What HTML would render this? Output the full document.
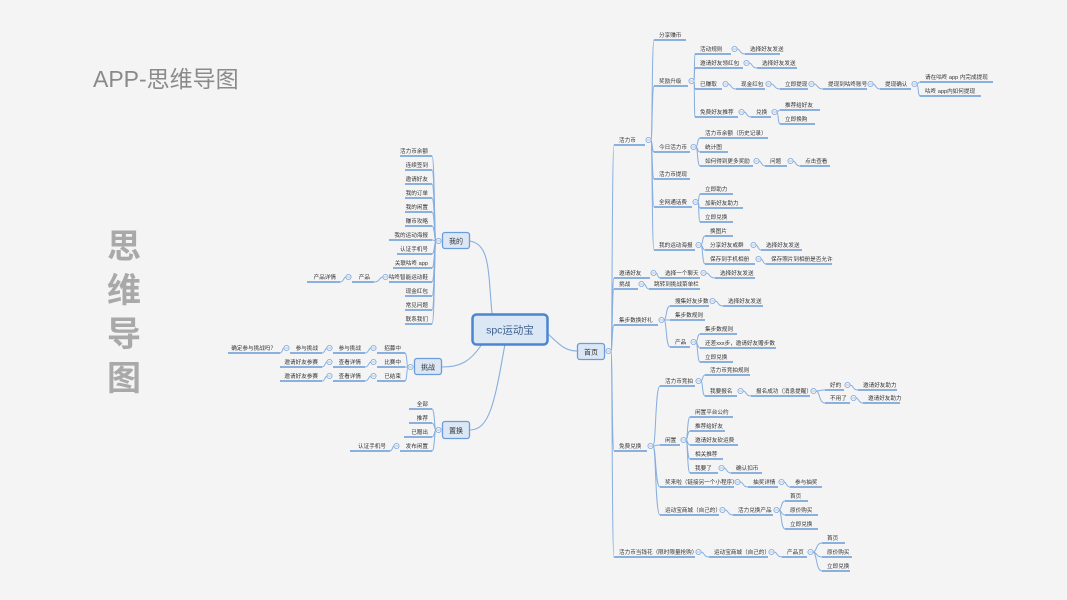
<!DOCTYPE html>
<html><head><meta charset="utf-8">
<style>
html,body{margin:0;padding:0;background:#f4f4f4;}
svg{display:block;}
text{font-family:"Liberation Sans","Noto Sans CJK SC",sans-serif;}
.l{font-size:5.6px;fill:#333;}
</style></head>
<body>
<svg id="s" width="1067" height="600" viewBox="0 0 1067 600" xmlns="http://www.w3.org/2000/svg">
<rect width="1067" height="600" fill="#f4f4f4"/>
<text x="93" y="87" font-size="23" fill="#8a8a8a">APP-思维导图</text>
<g font-size="34" fill="#a9a9a9" font-weight="bold">
<text x="107" y="258">思</text>
<text x="107" y="302">维</text>
<text x="107" y="346">导</text>
<text x="107" y="390">图</text>
</g>
<g id="conn" fill="none" stroke="#86aee0" stroke-width="1"></g>
<g fill="none" stroke="#86aee0" stroke-width="1.1">
<path d="M492 314 C488 270 490 245 470 241"/>
<path d="M482 344 C470 362 460 367 442 367"/>
<path d="M505 344 C495 400 490 430 470 430"/>
<path d="M547 333 C560 345 565 351 577 351"/>
</g>
<rect x="472.5" y="314.5" width="75" height="30" rx="4" fill="#dce7f5" stroke="#4a86d0" stroke-width="2.5"/>
<text x="510" y="333.5" font-size="10.5" fill="#3b5e8c" text-anchor="middle">spc运动宝</text>
<rect x="577.5" y="343.5" width="27" height="16" rx="2.5" fill="#dce7f5" stroke="#6b9bd8" stroke-width="1.3"/>
<text x="591" y="354.5" font-size="7" fill="#333" text-anchor="middle">首页</text>
<rect x="442.5" y="232.5" width="27" height="16" rx="2.5" fill="#dce7f5" stroke="#6b9bd8" stroke-width="1.3"/>
<text x="456" y="243.5" font-size="7" fill="#333" text-anchor="middle">我的</text>
<rect x="414.5" y="358.5" width="27" height="16" rx="2.5" fill="#dce7f5" stroke="#6b9bd8" stroke-width="1.3"/>
<text x="428" y="369.5" font-size="7" fill="#333" text-anchor="middle">挑战</text>
<rect x="442.5" y="421.5" width="27" height="17" rx="2.5" fill="#dce7f5" stroke="#6b9bd8" stroke-width="1.3"/>
<text x="456" y="433" font-size="7" fill="#333" text-anchor="middle">置换</text>
<g id="nodes"></g>
<g id="circ"></g>
</svg>
<script>
var NS="http://www.w3.org/2000/svg";
var conn=document.getElementById('conn'),nodes=document.getElementById('nodes'),circ=document.getElementById('circ');
function el(tag,a,p){var e=document.createElementNS(NS,tag);for(var k in a)e.setAttribute(k,a[k]);p.appendChild(e);return e;}
var done={};
function circle(x,y){var k=x+','+y;if(done[k])return;done[k]=1;
 el('circle',{cx:x,cy:y,r:2.6,fill:'#f4f4f4',stroke:'#86aee0','stroke-width':0.9},circ);
 el('line',{x1:x-1.3,y1:y,x2:x+1.3,y2:y,stroke:'#86aee0','stroke-width':0.7},circ);}
function path(px,py,cx,cy){var mx=px+(cx-px)*0.45;
 el('path',{d:'M'+px+' '+py+' C'+mx+' '+py+' '+(px+(cx-px)*0.3)+' '+cy+' '+cx+' '+cy},conn);}
function R(p,x1,x2,y,t){circle(p[0]-2.5,p[1]);path(p[0],p[1],x1,y);
 el('line',{x1:x1,y1:y,x2:x2,y2:y,stroke:'#4a86d0','stroke-width':1.3},nodes);
 var tx=el('text',{x:x1+5,y:y-3,'class':'l'},nodes);tx.textContent=t;return [x2+6,y-5];}
function L(p,x1,x2,y,t){circle(p[0]+2.5,p[1]);path(p[0],p[1],x2,y);
 el('line',{x1:x1,y1:y,x2:x2,y2:y,stroke:'#4a86d0','stroke-width':1.3},nodes);
 var tx=el('text',{x:x2-4,y:y-3,'class':'l','text-anchor':'end'},nodes);tx.textContent=t;return [x1-6,y-5];}
var H=[611,351],a,b,c,d;
a=R(H,614,645,145,'活力币');
R(a,654,686,40,'分享赚币');
b=R(a,654,688,86,'奖励升级');
c=R(b,695,731,54,'活动规则');R(c,745,780,54,'选择好友发送');
c=R(b,695,743,68,'邀请好友领红包');R(c,757,797,68,'选择好友发送');
c=R(b,695,722,89,'已赚取');c=R(c,736,765,89,'现金红包');c=R(c,780,808,89,'立即提现');c=R(c,823,867,89,'提现到咕咚账号');c=R(c,880,911,89,'提现确认');
R(c,920,993,82,'请在咕咚 app 内完成提现');R(c,920,981,96,'咕咚 app内如何提现');
c=R(b,695,738,117,'免费好友推荐');c=R(c,751,771,117,'兑换');R(c,780,820,110,'推荐给好友');R(c,780,815,124,'立即换购');
b=R(a,654,690,152,'今日活力币');R(b,700,768,138,'活力币余额（历史记录）');R(b,700,728,152,'统计图');
c=R(b,700,753,166,'如何得到更多奖励');c=R(c,765,787,166,'问题');R(c,800,830,166,'点击查看');
R(a,654,690,179,'活力币提现');
b=R(a,654,692,207,'全网通话费');R(b,700,733,194,'立即助力');R(b,700,743,208,'加新好友助力');R(b,700,733,222,'立即兑换');
b=R(a,654,695,250,'我的运动海报');R(b,705,733,236,'换图片');c=R(b,705,750,250,'分享好友或群');R(c,761,802,250,'选择好友发送');
c=R(b,705,755,264,'保存到手机相册');R(c,766,832,264,'保存照片到相册是否允许');
a=R(H,614,650,278,'邀请好友');c=R(a,660,700,278,'选择一个聊天');R(c,715,755,278,'选择好友发送');
a=R(H,614,638,289,'挑战');R(a,649,700,289,'跳转到挑战菜单栏');
a=R(H,614,658,325,'集步数换好礼');c=R(a,670,709,306,'搜集好友步数');R(c,723,763,306,'选择好友发送');R(a,670,705,320,'集步数规则');
b=R(a,670,690,347,'产品');R(b,700,737,334,'集步数规则');R(b,700,776,348,'还差xxx步，邀请好友赠步数');R(b,700,733,362,'立即兑换');
a=R(H,614,647,451,'免费兑换');
b=R(a,660,695,386,'活力币竞拍');R(b,705,750,375,'活力币竞拍规则');c=R(b,705,737,396,'我要报名');c=R(c,751,810,396,'报名成功（消息提醒）');
d=R(c,825,844,390,'好的');R(d,858,897,390,'邀请好友助力');d=R(c,825,850,403,'不用了');R(d,863,900,403,'邀请好友助力');
b=R(a,660,680,445,'闲置');R(b,690,733,417,'闲置平台公约');R(b,690,725,431,'推荐给好友');R(b,690,738,445,'邀请好友砍运费');R(b,690,723,459,'相关推荐');
c=R(b,690,718,473,'我要了');R(c,731,762,473,'确认扣币');
c=R(a,660,734,487,'奖来啦（链接另一个小程序）');c=R(c,748,778,487,'抽奖详情');R(c,790,822,487,'参与抽奖');
c=R(a,660,719,515,'运动宝商城（自己的）');c=R(c,733,773,515,'活力兑换产品');R(c,785,808,501,'首页');R(c,785,818,515,'原价购买');R(c,785,818,529,'立即兑换');
a=R(H,614,695,557,'活力币当钱花（限时限量抢购）');c=R(a,709,768,557,'运动宝商城（自己的）');c=R(c,782,807,557,'产品页');
R(c,822,845,543,'首页');R(c,822,852,557,'原价购买');R(c,822,850,571,'立即兑换');
var M=[436,241];
var my=[['活力币余额',400],['连续签到',405],['邀请好友',405],['我的订单',405],['我的闲置',405],['赚币攻略',405],['我的运动海报',389],['认证手机号',397],['关联咕咚 app',393],['咕咚智能运动鞋',389],['现金红包',405],['常见问题',405],['联系我们',405]];
for(var i=0;i<my.length;i++){var r=L(M,my[i][1],432,156+14*i,my[i][0]);if(i==9){c=L(r,352,374,282,'产品');L(c,307,340,282,'产品详情');}}
var T=[408,367];
c=L(T,377,405,353,'招募中');c=L(c,333,365,353,'参与挑战');c=L(c,290,322,353,'参与挑战');L(c,228,280,353,'确定参与挑战吗？');
c=L(T,377,405,367,'比赛中');c=L(c,333,365,367,'查看详情');L(c,280,322,367,'邀请好友参赛');
c=L(T,377,405,381,'已结束');c=L(c,333,365,381,'查看详情');L(c,280,322,381,'邀请好友参赛');
var Z=[436,430];
L(Z,409,432,409,'全部');L(Z,409,432,423,'推荐');L(Z,404,432,437,'已赠出');c=L(Z,400,432,451,'发布闲置');L(c,350,390,451,'认证手机号');
</script>
</body></html>
